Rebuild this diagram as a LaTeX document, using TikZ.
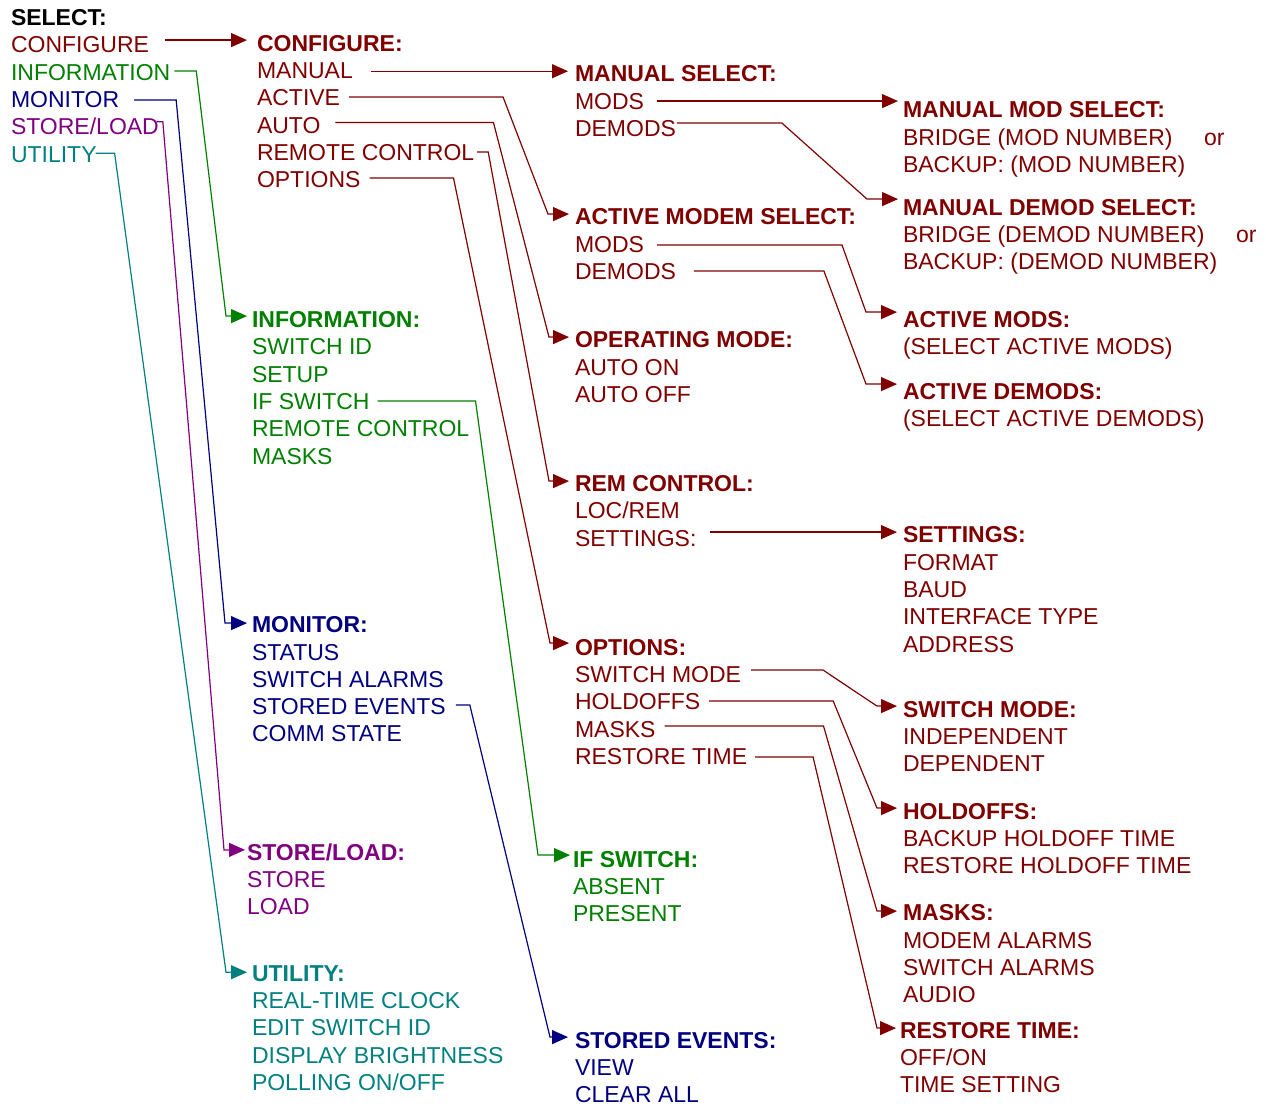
\documentclass[tikz,border=0pt]{standalone}
\usepackage{fontspec}
\setmainfont{Liberation Sans}
\usetikzlibrary{arrows.meta,calc}
\definecolor{cmar}{RGB}{128,0,0}
\definecolor{cgrn}{RGB}{0,128,0}
\definecolor{cnav}{RGB}{0,0,128}
\definecolor{cpur}{RGB}{128,0,128}
\definecolor{ctea}{RGB}{0,128,128}
\newcommand\myfs{\fontsize{23}{27.3}\selectfont}
\begin{document}
\begin{tikzpicture}[x=1pt,y=-1pt,
 lbl/.style={anchor=base west, inner sep=0pt, outer sep=0pt, font=\myfs},
 hdr/.style={lbl, font=\myfs\bfseries},
 redl/.style={lbl,text=cmar}, redh/.style={hdr,text=cmar},
 grnl/.style={lbl,text=cgrn}, grnh/.style={hdr,text=cgrn},
 navl/.style={lbl,text=cnav}, navh/.style={hdr,text=cnav},
 purl/.style={lbl,text=cpur}, purh/.style={hdr,text=cpur},
 tql/.style={lbl,text=ctea}, tqh/.style={hdr,text=ctea},
 conn/.style={line width=1.2pt, -{Triangle[length=16pt,width=14pt]}, line join=miter}
]
\useasboundingbox (0,0) rectangle (1266,1106);

% column 1
\node[hdr] (sel) at (11,25) {SELECT:};
\node[redl] (c1cfg) at (11,52) {CONFIGURE};
\node[grnl] (c1inf) at (11,80) {INFORMATION};
\node[navl] (c1mon) at (11,107) {MONITOR};
\node[purl] (c1sl) at (11,134) {STORE/LOAD};
\node[tql] (c1ut) at (11,162) {UTILITY};

% column 2
\node[redh] (cfgH) at (257,51) {CONFIGURE:};
\node[redl] (cman) at (257,78) {MANUAL};
\node[redl] (cact) at (257,105) {ACTIVE};
\node[redl] (caut) at (257,133) {AUTO};
\node[redl] (crc) at (257,160) {REMOTE CONTROL};
\node[redl] (copt) at (257,187) {OPTIONS};

\node[grnh] (infoH) at (252,327) {INFORMATION:};
\node[grnl] (inf1) at (252,354) {SWITCH ID};
\node[grnl] (inf2) at (252,382) {SETUP};
\node[grnl] (inf3) at (252,409) {IF SWITCH};
\node[grnl] (inf4) at (252,436) {REMOTE CONTROL};
\node[grnl] (inf5) at (252,464) {MASKS};

\node[navh] (monH) at (252,632) {MONITOR:};
\node[navl] (mon1) at (252,660) {STATUS};
\node[navl] (mon2) at (252,687) {SWITCH ALARMS};
\node[navl] (mon3) at (252,714) {STORED EVENTS};
\node[navl] (mon4) at (252,741) {COMM STATE};

\node[purh] (slH) at (247,860) {STORE/LOAD:};
\node[purl] (sl1) at (247,887) {STORE};
\node[purl] (sl2) at (247,914) {LOAD};

\node[tqh] (utH) at (252,981) {UTILITY:};
\node[tql] (ut1) at (252,1008) {REAL-TIME CLOCK};
\node[tql] (ut2) at (252,1035) {EDIT SWITCH ID};
\node[tql] (ut3) at (252,1063) {DISPLAY BRIGHTNESS};
\node[tql] (ut4) at (252,1090) {POLLING ON/OFF};

% column 3
\node[redh] (msH) at (575,81) {MANUAL SELECT:};
\node[redl] (msmods) at (575,109) {MODS};
\node[redl] (msdem) at (575,136) {DEMODS};
\node[redh] (amH) at (575,224) {ACTIVE MODEM SELECT:};
\node[redl] (ammods) at (575,252) {MODS};
\node[redl] (amdem) at (575,279) {DEMODS};
\node[redh] (omH) at (575,347) {OPERATING MODE:};
\node[redl] (omon) at (575,375) {AUTO ON};
\node[redl] (omoff) at (575,402) {AUTO OFF};
\node[redh] (rcH) at (575,491) {REM CONTROL:};
\node[redl] (rcloc) at (575,518) {LOC/REM};
\node[redl] (rcset) at (575,546) {SETTINGS:};
\node[redh] (opH) at (575,655) {OPTIONS:};
\node[redl] (opsw) at (575,682) {SWITCH MODE};
\node[redl] (ophold) at (575,709) {HOLDOFFS};
\node[redl] (opmask) at (575,737) {MASKS};
\node[redl] (oprt) at (575,764) {RESTORE TIME};

\node[grnh] (ifH) at (573,867) {IF SWITCH:};
\node[grnl] (ifab) at (573,894) {ABSENT};
\node[grnl] (ifpr) at (573,921) {PRESENT};

\node[navh] (seH) at (575,1048) {STORED EVENTS:};
\node[navl] (sev) at (575,1075) {VIEW};
\node[navl] (secl) at (575,1102) {CLEAR ALL};

% column 4
\node[redh] (mmH) at (903,117) {MANUAL MOD SELECT:};
\node[redl] (mmb1) at (903,145) {BRIDGE (MOD NUMBER)};
\node[redl] (mmor) at (1204,145) {or};
\node[redl] (mmb2) at (903,172) {BACKUP: (MOD NUMBER)};
\node[redh] (mdH) at (903,215) {MANUAL DEMOD SELECT:};
\node[redl] (mdb1) at (903,242) {BRIDGE (DEMOD NUMBER)};
\node[redl] (mdor) at (1236,242) {or};
\node[redl] (mdb2) at (903,269) {BACKUP: (DEMOD NUMBER)};
\node[redh] (amoH) at (903,327) {ACTIVE MODS:};
\node[redl] (amo1) at (903,354) {(SELECT ACTIVE MODS)};
\node[redh] (adH) at (903,399) {ACTIVE DEMODS:};
\node[redl] (ad1) at (903,426) {(SELECT ACTIVE DEMODS)};
\node[redh] (setH) at (903,542) {SETTINGS:};
\node[redl] (setf) at (903,570) {FORMAT};
\node[redl] (setb) at (903,597) {BAUD};
\node[redl] (seti) at (903,624) {INTERFACE TYPE};
\node[redl] (seta) at (903,652) {ADDRESS};
\node[redh] (swH) at (903,717) {SWITCH MODE:};
\node[redl] (swi) at (903,744) {INDEPENDENT};
\node[redl] (swd) at (903,771) {DEPENDENT};
\node[redh] (hoH) at (903,819) {HOLDOFFS:};
\node[redl] (ho1) at (903,846) {BACKUP HOLDOFF TIME};
\node[redl] (ho2) at (903,873) {RESTORE HOLDOFF TIME};
\node[redh] (maH) at (903,920) {MASKS:};
\node[redl] (ma1) at (903,948) {MODEM ALARMS};
\node[redl] (ma2) at (903,975) {SWITCH ALARMS};
\node[redl] (ma3) at (903,1002) {AUDIO};
\node[redh] (rtH) at (900,1038) {RESTORE TIME:};
\node[redl] (rt1) at (900,1065) {OFF/ON};
\node[redl] (rt2) at (900,1092) {TIME SETTING};

% connectors from column 1
\draw[conn,cmar] ($(c1cfg.east)+(16,-4)$) -- ($(cfgH.west |- c1cfg.east)+(-10,-4)$);
\draw[conn,cgrn] ($(c1inf.east)+(4,-1)$) -- ++(22,0) -- ($(infoH.west)+(-26,-3)$) -- ($(infoH.west)+(-5,-3)$);
\draw[conn,cnav] ($(c1mon.east)+(15,1)$) -- ++(42,0) -- ($(monH.west)+(-27,-1)$) -- ($(monH.west)+(-5,-1)$);
\draw[conn,cpur] ($(c1sl.east)+(-2,-4)$) -- ++(6,0) -- ($(slH.west)+(-23,-2)$) -- ($(slH.west)+(-2,-2)$);
\draw[conn,ctea] ($(c1ut.east)+(-1,-1)$) -- ++(19,0) -- ($(utH.west)+(-26,-1)$) -- ($(utH.west)+(-5,-1)$);

% connectors from CONFIGURE
\draw[conn,cmar] ($(cman.east)+(18,1)$) -- ($(msH.west |- cman.east)+(-7,1)$);
\draw[conn,cmar] ($(cact.east)+(9,0)$) -- ++(154,0) -- ($(amH.west)+(-27,-2)$) -- ($(amH.west)+(-6,-2)$);
\draw[conn,cmar] ($(caut.east)+(15,-2.5)$) -- ++(158,0) -- ($(omH.west)+(-26,-2)$) -- ($(omH.west)+(-6,-2)$);
\draw[conn,cmar] ($(crc.east)+(3,0)$) -- ++(11,0) -- ($(rcH.west)+(-26,-2)$) -- ($(rcH.west)+(-6,-2)$);
\draw[conn,cmar] ($(copt.east)+(9,-1)$) -- ++(84,0) -- ($(opH.west)+(-25,-4)$) -- ($(opH.west)+(-6,-4)$);

% connectors from column 3
\draw[conn,cmar] ($(msmods.east)+(13,0)$) -- ($(mmH.west |- msmods.east)+(-5,0)$);
\draw[conn,cmar] ($(msdem.east)+(1,-5)$) -- ++(105,0) -- ($(mdH.west)+(-36,-8)$) -- ($(mdH.west)+(-5,-8)$);
\draw[conn,cmar] ($(ammods.east)+(13,1)$) -- ++(185,0) -- ($(amoH.west)+(-37,-7)$) -- ($(amoH.west)+(-6,-7)$);
\draw[conn,cmar] ($(amdem.east)+(18,0)$) -- ++(130,0) -- ($(adH.west)+(-37,-7)$) -- ($(adH.west)+(-6,-7)$);
\draw[conn,cmar] ($(rcset.east)+(14,-6)$) -- ($(setH.west |- rcset.east)+(-6,-6)$);
\draw[conn,cmar] ($(opsw.east)+(10,-4)$) -- ++(72,0) -- ($(swH.west)+(-26,-3)$) -- ($(swH.west)+(-6,-3)$);
\draw[conn,cmar] ($(ophold.east)+(9,0)$) -- ++(124,0) -- ($(hoH.west)+(-26,-3)$) -- ($(hoH.west)+(-6,-3)$);
\draw[conn,cmar] ($(opmask.east)+(9,-3)$) -- ++(159,0) -- ($(maH.west)+(-26,-1)$) -- ($(maH.west)+(-6,-1)$);
\draw[conn,cmar] ($(oprt.east)+(8,1)$) -- ++(58,0) -- ($(rtH.west)+(-23,-2)$) -- ($(rtH.west)+(-4,-2)$);

% other connectors
\draw[conn,cgrn] ($(inf3.east)+(8,0)$) -- ++(98,0) -- ($(ifH.west)+(-35,-4)$) -- ($(ifH.west)+(-3,-4)$);
\draw[conn,cnav] ($(mon3.east)+(10,-1)$) -- ++(14,0) -- ($(seH.west)+(-25,-3)$) -- ($(seH.west)+(-7,-3)$);
\end{tikzpicture}
\end{document}
